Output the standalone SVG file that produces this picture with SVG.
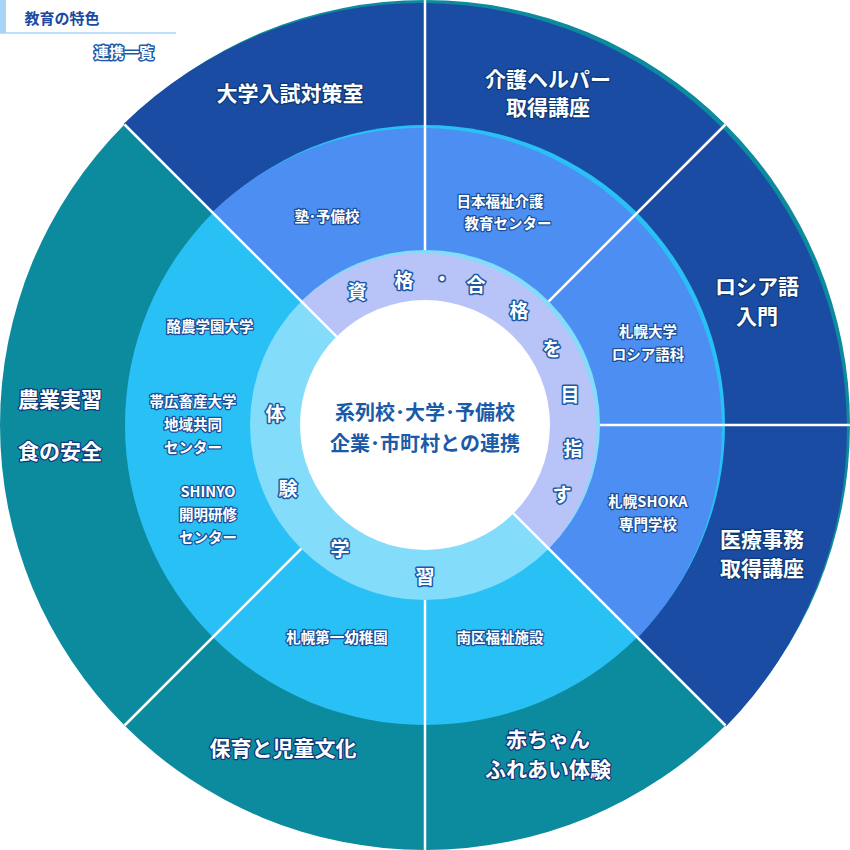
<svg xmlns="http://www.w3.org/2000/svg" width="850" height="850" viewBox="0 0 850 850">
<style>
text{font-family:"Noto Sans CJK JP","Noto Sans",sans-serif;font-weight:bold;text-anchor:middle;dominant-baseline:central;paint-order:stroke;stroke-linejoin:round}
.o{font-size:21px;fill:#fff;stroke:#0d3a7a;stroke-width:2.5px}
.m{font-size:14.5px;fill:#fff;stroke:#1a4f9a;stroke-width:2.5px}
.r{font-size:19px;fill:#fff;stroke:#1a5aa8;stroke-width:3px}
.c{font-size:20px;fill:#1a5aa8;stroke:#fff;stroke-width:2px}
.ln{stroke:#fff;stroke-width:2.5;fill:none}
</style>
<rect width="850" height="850" fill="#fff"/>
<g id="header">
<rect x="0" y="0" width="6" height="33" fill="#a8d4f8"/>
<line x1="0" y1="33" x2="176" y2="33" stroke="#a8d4f8" stroke-width="1.5"/>
<text x="62" y="17" style="font-size:15px;fill:#1a4ba0;stroke:none">教育の特色</text>
<text x="124" y="51" style="font-size:15px;fill:#fff;stroke:#1a5aa8;stroke-width:3px">連携一覧</text>
</g>
<g id="rings">
<circle cx="425" cy="425" r="425" fill="#0d8b9e"/>
<path d="M425 425L123.8 123.8A426 426 0 0 1 726.2 726.2Z" fill="#1b4ca3"/>
<circle cx="425" cy="425" r="300" fill="#29c0f6"/>
<path d="M425 425L212.2 212.2A301 301 0 0 1 637.8 637.8Z" fill="#4d8ef2"/>
<circle cx="425" cy="425" r="175" fill="#82dcfa"/>
<path d="M425 425L301.3 301.3A175 175 0 0 1 548.7 548.7Z" fill="#b8c3f8"/>
<circle cx="425" cy="425" r="125" fill="#fff"/>
</g>
<g id="connectors" class="ln">
<line x1="336.6" y1="336.6" x2="124.5" y2="124.5"/>
<line x1="425" y1="250" x2="425" y2="0"/>
<line x1="548.7" y1="301.3" x2="725.5" y2="124.5"/>
<line x1="600" y1="425" x2="850" y2="425"/>
<line x1="513.4" y1="513.4" x2="725.5" y2="725.5"/>
<line x1="425" y1="600" x2="425" y2="850"/>
<line x1="301.3" y1="548.7" x2="124.5" y2="725.5"/>
</g>
<g id="outer">
<text class="o" x="290" y="92">大学入試対策室</text>
<text class="o" x="548" y="78">介護ヘルパー</text><text class="o" x="548" y="106">取得講座</text>
<text class="o" x="757" y="285">ロシア語</text><text class="o" x="757" y="315">入門</text>
<text class="o" x="762" y="538">医療事務</text><text class="o" x="762" y="567">取得講座</text>
<text class="o" x="548" y="738">赤ちゃん</text><text class="o" x="548" y="768">ふれあい体験</text>
<text class="o" x="283" y="747">保育と児童文化</text>
<text class="o" x="60" y="398">農業実習</text><text class="o" x="60" y="450">食の安全</text>
</g>
<g id="middle">
<text class="m" x="327" y="215">塾･予備校</text>
<text class="m" x="500" y="200">日本福祉介護</text><text class="m" x="508" y="222">教育センター</text>
<text class="m" x="648" y="330">札幌大学</text><text class="m" x="648" y="353">ロシア語科</text>
<text class="m" x="648" y="500">札幌SHOKA</text><text class="m" x="648" y="523">専門学校</text>
<text class="m" x="500" y="636">南区福祉施設</text>
<text class="m" x="337" y="636">札幌第一幼稚園</text>
<text class="m" x="210" y="325">酪農学園大学</text>
<text class="m" x="193" y="400">帯広畜産大学</text><text class="m" x="193" y="423">地域共同</text><text class="m" x="193" y="446">センター</text>
<text class="m" x="208" y="490">SHINYO</text><text class="m" x="208" y="513">開明研修</text><text class="m" x="208" y="536">センター</text>
</g>
<g id="inner">
<text class="r" x="357" y="290">資</text><text class="r" x="404" y="279">格</text><text class="r" x="442" y="277">・</text><text class="r" x="476" y="283">合</text><text class="r" x="519" y="309">格</text><text class="r" x="552" y="347">を</text><text class="r" x="570" y="393">目</text><text class="r" x="573" y="447">指</text><text class="r" x="562" y="493">す</text>
<text class="r" x="275" y="412">体</text><text class="r" x="288" y="487">験</text><text class="r" x="340" y="547">学</text><text class="r" x="425" y="575">習</text>
</g>
<g id="center">
<text class="c" x="425" y="411">系列校･大学･予備校</text>
<text class="c" x="425" y="442">企業･市町村との連携</text>
</g>
</svg>
